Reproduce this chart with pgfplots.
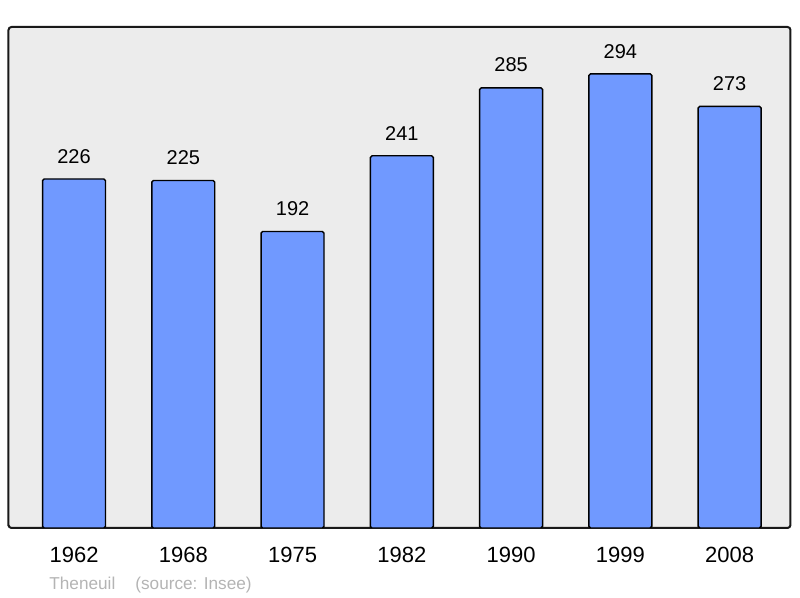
\documentclass[border=0pt]{standalone}
\usepackage{pgfplots}
\pgfplotsset{compat=1.18}
\usepackage{fontspec}
\setmainfont{Liberation Sans}
\definecolor{barblue}{RGB}{112,153,255}
\definecolor{plotbg}{RGB}{236,236,236}
\definecolor{footgray}{RGB}{180,180,180}
\begin{document}
\begin{tikzpicture}
% page is 800x598 px, 1px = 0.5pt
\path (0,0) rectangle (400pt,299pt);
\begin{axis}[at={(4.25pt,35pt)}, anchor=south west, scale only axis,
  width=391pt, height=250.5pt,
  xmin=-0.6, xmax=6.557, ymin=0, ymax=324.4,
  axis background/.style={fill=plotbg},
  axis line style={line width=1pt, black!90, rounded corners=1.5pt},
  xtick={0,...,6}, xticklabels={1962,1968,1975,1982,1990,1999,2008},
  ytick=\empty, major tick length=0pt,
  xticklabel style={font=\fontsize{11pt}{13pt}\selectfont, inner sep=0pt, yshift=-9.5pt},
  /pgf/number format/assume math mode=true,
  nodes near coords,
  every node near coord/.append style={font=\fontsize{10pt}{12pt}\selectfont, inner sep=0pt, yshift=7.5pt, black}]
  \addplot[ybar, bar width=0.576, fill=barblue, draw=black, line width=0.7pt, rounded corners=0.8pt]
    coordinates {(0,226) (1,225) (2,192) (3,241) (4,285) (5,294) (6,273)};
\end{axis}
\node[anchor=base west, inner sep=0pt, text=footgray, font=\fontsize{8.6pt}{10pt}\selectfont] at (24.5pt,4pt) {Theneuil};
\node[anchor=base west, inner sep=0pt, text=footgray, font=\fontsize{8.6pt}{10pt}\selectfont] at (67.5pt,4pt) {(source: Insee)};
\end{tikzpicture}
\end{document}
